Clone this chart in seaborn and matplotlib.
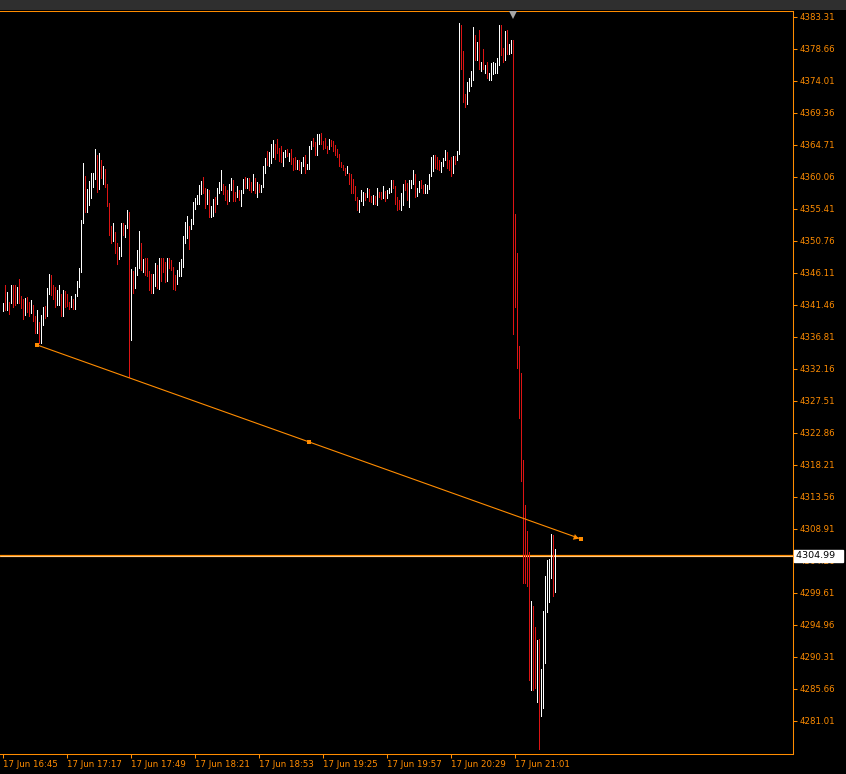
import numpy as np
import pandas as pd
import matplotlib
matplotlib.use("Agg")
import matplotlib.pyplot as plt
import seaborn as sns
from matplotlib.patches import Rectangle

# 1-minute bars from 17 Jun 16:45, highs / lows
highs = [
    4341.8, 4344.3, 4343.3, 4341.9, 4344.3, 4344.4, 4344.3, 4344.1, 4345.2, 4342.8,
    4342.3, 4342.5, 4342.6, 4341.9, 4342.2, 4341.5, 4339.9, 4340.7, 4339.0, 4340.0,
    4341.2, 4341.3, 4343.9, 4346.0, 4345.8, 4344.4, 4344.1, 4343.7, 4344.3, 4343.1,
    4343.6, 4343.5, 4343.0, 4341.9, 4342.8, 4342.3, 4343.1, 4345.0, 4346.9, 4353.8,
    4362.1, 4360.2, 4358.3, 4359.5, 4360.7, 4360.7, 4364.1, 4363.2, 4363.6, 4362.5,
    4361.7, 4361.2, 4359.0, 4356.3, 4352.9, 4353.4, 4352.1, 4350.5, 4349.9, 4353.4,
    4353.4, 4353.1, 4355.3, 4354.9, 4346.7, 4346.4, 4347.0, 4349.5, 4352.2, 4350.5,
    4348.2, 4348.3, 4348.3, 4346.4, 4345.9, 4345.9, 4347.5, 4347.3, 4348.3, 4348.3,
    4348.3, 4347.7, 4348.3, 4348.3, 4348.0, 4347.0, 4345.8, 4346.5, 4347.7, 4348.1,
    4351.5, 4353.5, 4354.4, 4352.9, 4354.0, 4356.4, 4357.0, 4357.4, 4358.9, 4359.5,
    4360.1, 4358.5, 4358.3, 4358.1, 4355.8, 4356.9, 4357.1, 4358.5, 4359.3, 4361.1,
    4359.0, 4358.8, 4358.1, 4359.0, 4359.9, 4359.6, 4357.9, 4358.7, 4358.1, 4358.2,
    4359.8, 4360.1, 4359.9, 4359.9, 4359.3, 4360.5, 4359.9, 4359.4, 4359.1, 4358.9,
    4361.7, 4362.8, 4363.8, 4363.7, 4364.9, 4365.4, 4364.9, 4365.6, 4364.3, 4364.6,
    4363.7, 4364.0, 4364.1, 4363.6, 4364.1, 4362.8, 4363.0, 4362.6, 4362.5, 4362.2,
    4363.0, 4363.2, 4362.0, 4364.5, 4365.3, 4365.7, 4365.2, 4366.3, 4366.3, 4366.4,
    4365.3, 4365.7, 4364.6, 4365.6, 4365.4, 4365.3, 4364.7, 4364.1, 4363.4, 4362.3,
    4361.8, 4361.4, 4361.7, 4360.6, 4360.5, 4359.8, 4358.7, 4357.1, 4356.7, 4358.2,
    4357.9, 4357.8, 4358.5, 4358.3, 4357.3, 4357.5, 4357.3, 4358.4, 4357.9, 4357.9,
    4358.8, 4358.0, 4358.1, 4358.4, 4359.6, 4359.6, 4358.8, 4357.1, 4356.7, 4357.8,
    4359.0, 4359.6, 4359.2, 4359.6, 4359.6, 4361.1, 4360.5, 4358.5, 4359.5, 4359.6,
    4358.9, 4359.1, 4358.9, 4360.5, 4362.9, 4363.3, 4363.3, 4362.9, 4362.6, 4362.3,
    4362.8, 4364.0, 4363.7, 4362.5, 4363.0, 4363.1, 4363.1, 4363.8, 4382.5, 4382.2,
    4378.3, 4372.1, 4373.9, 4374.5, 4375.5, 4381.9, 4380.7, 4379.7, 4381.4, 4376.8,
    4378.7, 4376.4, 4376.8, 4375.1, 4376.6, 4376.8, 4376.6, 4377.3, 4382.1, 4382.1,
    4378.8, 4381.3, 4381.4, 4379.4, 4380.0, 4379.9, 4354.7, 4349.0, 4335.5, 4331.6,
    4318.9, 4312.4, 4308.6, 4305.6, 4298.4, 4297.7, 4294.6, 4292.8, 4292.9, 4288.6,
    4297.0, 4302.1, 4304.4, 4304.5, 4308.2, 4308.0, 4306.0,
]
lows = [
    4340.6, 4340.7, 4340.7, 4340.2, 4341.7, 4341.2, 4341.5, 4341.8, 4341.8, 4341.0,
    4339.4, 4340.0, 4340.5, 4339.9, 4340.3, 4339.2, 4337.4, 4337.4, 4335.9, 4336.0,
    4338.6, 4339.5, 4339.8, 4343.0, 4342.9, 4342.4, 4341.1, 4341.5, 4341.5, 4339.9,
    4339.9, 4341.1, 4341.3, 4340.9, 4341.1, 4340.9, 4340.9, 4342.7, 4344.1, 4346.2,
    4353.4, 4355.0, 4355.0, 4356.0, 4357.0, 4358.6, 4359.7, 4357.9, 4358.3, 4359.9,
    4359.1, 4358.6, 4355.8, 4351.6, 4350.4, 4350.8, 4349.0, 4347.4, 4348.1, 4348.6,
    4351.7, 4351.3, 4352.7, 4331.0, 4336.4, 4343.2, 4344.0, 4345.8, 4346.8, 4346.5,
    4346.2, 4345.8, 4345.6, 4343.7, 4343.2, 4343.2, 4344.2, 4344.0, 4343.8, 4345.0,
    4346.2, 4344.8, 4345.0, 4346.9, 4346.5, 4343.8, 4343.7, 4344.5, 4345.6, 4345.7,
    4347.0, 4350.5, 4351.2, 4349.6, 4352.5, 4353.3, 4355.4, 4356.1, 4356.2, 4357.6,
    4357.7, 4355.6, 4356.2, 4354.3, 4354.3, 4354.4, 4355.0, 4356.1, 4357.8, 4358.2,
    4357.6, 4356.7, 4356.2, 4356.5, 4358.2, 4356.5, 4356.5, 4357.2, 4356.7, 4355.8,
    4357.7, 4358.4, 4358.4, 4358.2, 4357.9, 4358.2, 4357.7, 4357.2, 4357.9, 4357.9,
    4358.6, 4360.7, 4361.8, 4361.7, 4362.1, 4363.0, 4362.7, 4363.6, 4362.4, 4362.3,
    4361.6, 4362.9, 4363.1, 4362.4, 4362.0, 4361.1, 4361.2, 4361.2, 4361.1, 4360.6,
    4361.7, 4360.6, 4361.2, 4361.2, 4364.1, 4364.6, 4363.3, 4363.2, 4364.9, 4364.9,
    4364.1, 4364.3, 4363.5, 4364.1, 4364.6, 4363.9, 4363.2, 4362.9, 4361.7, 4361.5,
    4361.1, 4360.4, 4360.6, 4359.0, 4357.8, 4357.8, 4356.7, 4355.3, 4355.0, 4356.5,
    4356.0, 4356.7, 4357.1, 4356.5, 4356.4, 4356.1, 4356.2, 4356.0, 4357.1, 4356.8,
    4357.0, 4356.6, 4357.0, 4357.7, 4357.9, 4358.4, 4356.2, 4355.3, 4355.4, 4355.3,
    4356.0, 4358.2, 4356.7, 4355.7, 4358.4, 4359.0, 4357.2, 4357.3, 4357.9, 4358.4,
    4357.7, 4357.8, 4357.8, 4358.3, 4360.2, 4361.0, 4361.3, 4361.2, 4361.1, 4360.8,
    4361.6, 4362.5, 4361.3, 4361.1, 4360.2, 4360.7, 4362.0, 4362.5, 4363.4, 4375.7,
    4370.9, 4370.2, 4370.7, 4372.5, 4373.3, 4374.2, 4377.1, 4377.1, 4375.7, 4375.5,
    4375.8, 4375.2, 4374.4, 4374.1, 4374.1, 4375.0, 4375.2, 4375.2, 4376.3, 4377.8,
    4376.8, 4377.1, 4378.0, 4378.0, 4378.1, 4337.2, 4341.1, 4332.3, 4325.1, 4315.9,
    4301.1, 4301.1, 4300.6, 4287.0, 4285.5, 4285.5, 4285.8, 4283.8, 4277.0, 4281.8,
    4282.9, 4289.5, 4296.9, 4298.3, 4301.8, 4299.2, 4299.8,
]
# u = bull bar (white), d = bear bar (red)
direction = "".join([
    "udududdudd", "dudduddudu", "uduuddduud", "uddduduuuu", "uduuuuudud",
    "uddddudduu", "duududuuud", "udddduudud", "ddudddduuu", "uuuduuuuuu",
    "dduduuduuu", "ddduuddudu", "ududdududu", "uuduuudddd", "uududddudu",
    "uduuudduud", "dddudddddd", "dduddddduu", "ududdududd", "uduuuddddu",
    "udduuuduud", "duuuuudddu", "uuddduduud", "dduuuududu", "duduuuuuud",
    "duduuddddd", "dddduddudu", "uuuuudu",
])

start_time = "16:45"
xtick_labels = ["17 Jun 16:45", "17 Jun 17:17", "17 Jun 17:49", "17 Jun 18:21",
                "17 Jun 18:53", "17 Jun 19:25", "17 Jun 19:57", "17 Jun 20:29",
                "17 Jun 21:01"]
ytick_labels = ["4383.31", "4378.66", "4374.01", "4369.36", "4364.71", "4360.06",
                "4355.41", "4350.76", "4346.11", "4341.46", "4336.81", "4332.16",
                "4327.51", "4322.86", "4318.21", "4313.56", "4308.91", "4304.26",
                "4299.61", "4294.96", "4290.31", "4285.66", "4281.01"]

# trend line (start, middle handle, end) and current price line
trend_minute = [17, 153, 289]
trend_price = [4335.65, 4321.56, 4307.46]
current_price = 4304.99

ORANGE = "#ff8c00"
RED = "#dd1414"


def to_minutes(hhmm):
    h, m = hhmm.split(":")
    return int(h) * 60 + int(m)


bars = pd.DataFrame({"high": highs, "low": lows, "dir": list(direction)})
bars["minute"] = np.arange(len(bars))
bars["color"] = np.where(bars["dir"] == "u", "white", RED)

sns.set_theme(style="dark")
plt.rcParams["font.family"] = ["DejaVu Sans"]

fig = plt.figure(figsize=(8.46, 7.74), dpi=100)
fig.patch.set_facecolor("black")
fig.add_artist(Rectangle((0, 1 - 10 / 774), 1, 10 / 774, transform=fig.transFigure,
                         facecolor="#2f2f2f", edgecolor="none"))
ax = fig.add_axes([0, 20 / 774, 793 / 846, 743 / 774])
ax.set_facecolor("black")

ax.vlines(bars["minute"], bars["low"], bars["high"], colors=bars["color"],
          linewidth=0.72, antialiased=False, zorder=3)

# current price line
ax.axhline(current_price, color=ORANGE, lw=1.6, zorder=2)
ax.axhline(current_price, color="#fff0d8", lw=0.45, zorder=2)

# trend line
sns.lineplot(x=trend_minute, y=trend_price, ax=ax, color=ORANGE, lw=0.8,
             marker="s", markersize=3.5, markeredgewidth=0, zorder=4)
arrow_x = 286
ax.plot(arrow_x, np.interp(arrow_x, trend_minute, trend_price), marker=(3, 0, -109.6),
        ms=5, color=ORANGE, mew=0, zorder=4)

# high marker at the top edge
ax.plot([255], [0.994], marker="v", ms=5.5, color="#a6a6a6", mew=0,
        transform=ax.get_xaxis_transform(), clip_on=False, zorder=5)

ax.set_xlim(-1.5, 395)
ax.set_ylim(4276.21, 4384.18)

t0 = to_minutes(start_time)
ax.set_xticks([to_minutes(lbl.split()[-1]) - t0 for lbl in xtick_labels])
ax.set_xticklabels(xtick_labels, ha="left")
ax.yaxis.tick_right()
ax.set_yticks([float(v) for v in ytick_labels])
ax.set_yticklabels(ytick_labels)
ax.tick_params(colors=ORANGE, labelsize=6.2, length=2.9, width=0.75,
               direction="out", pad=1.5)
ax.tick_params(axis="x", bottom=True)
ax.tick_params(axis="y", right=True, left=False)
ax.grid(False)
for side in ["top", "right", "bottom"]:
    ax.spines[side].set_color(ORANGE)
    ax.spines[side].set_linewidth(0.75)
    ax.spines[side].set_visible(True)
ax.spines["left"].set_visible(False)

ax.annotate(f"{current_price:.2f}  ", xy=(1, current_price),
            xycoords=("axes fraction", "data"), xytext=(2.2, 0),
            textcoords="offset points", ha="left", va="center", fontsize=6.8,
            color="black", annotation_clip=False, zorder=10,
            bbox=dict(boxstyle="square,pad=0.2", fc="white", ec="white"))

fig.savefig("out.png", dpi=100, facecolor="black")
